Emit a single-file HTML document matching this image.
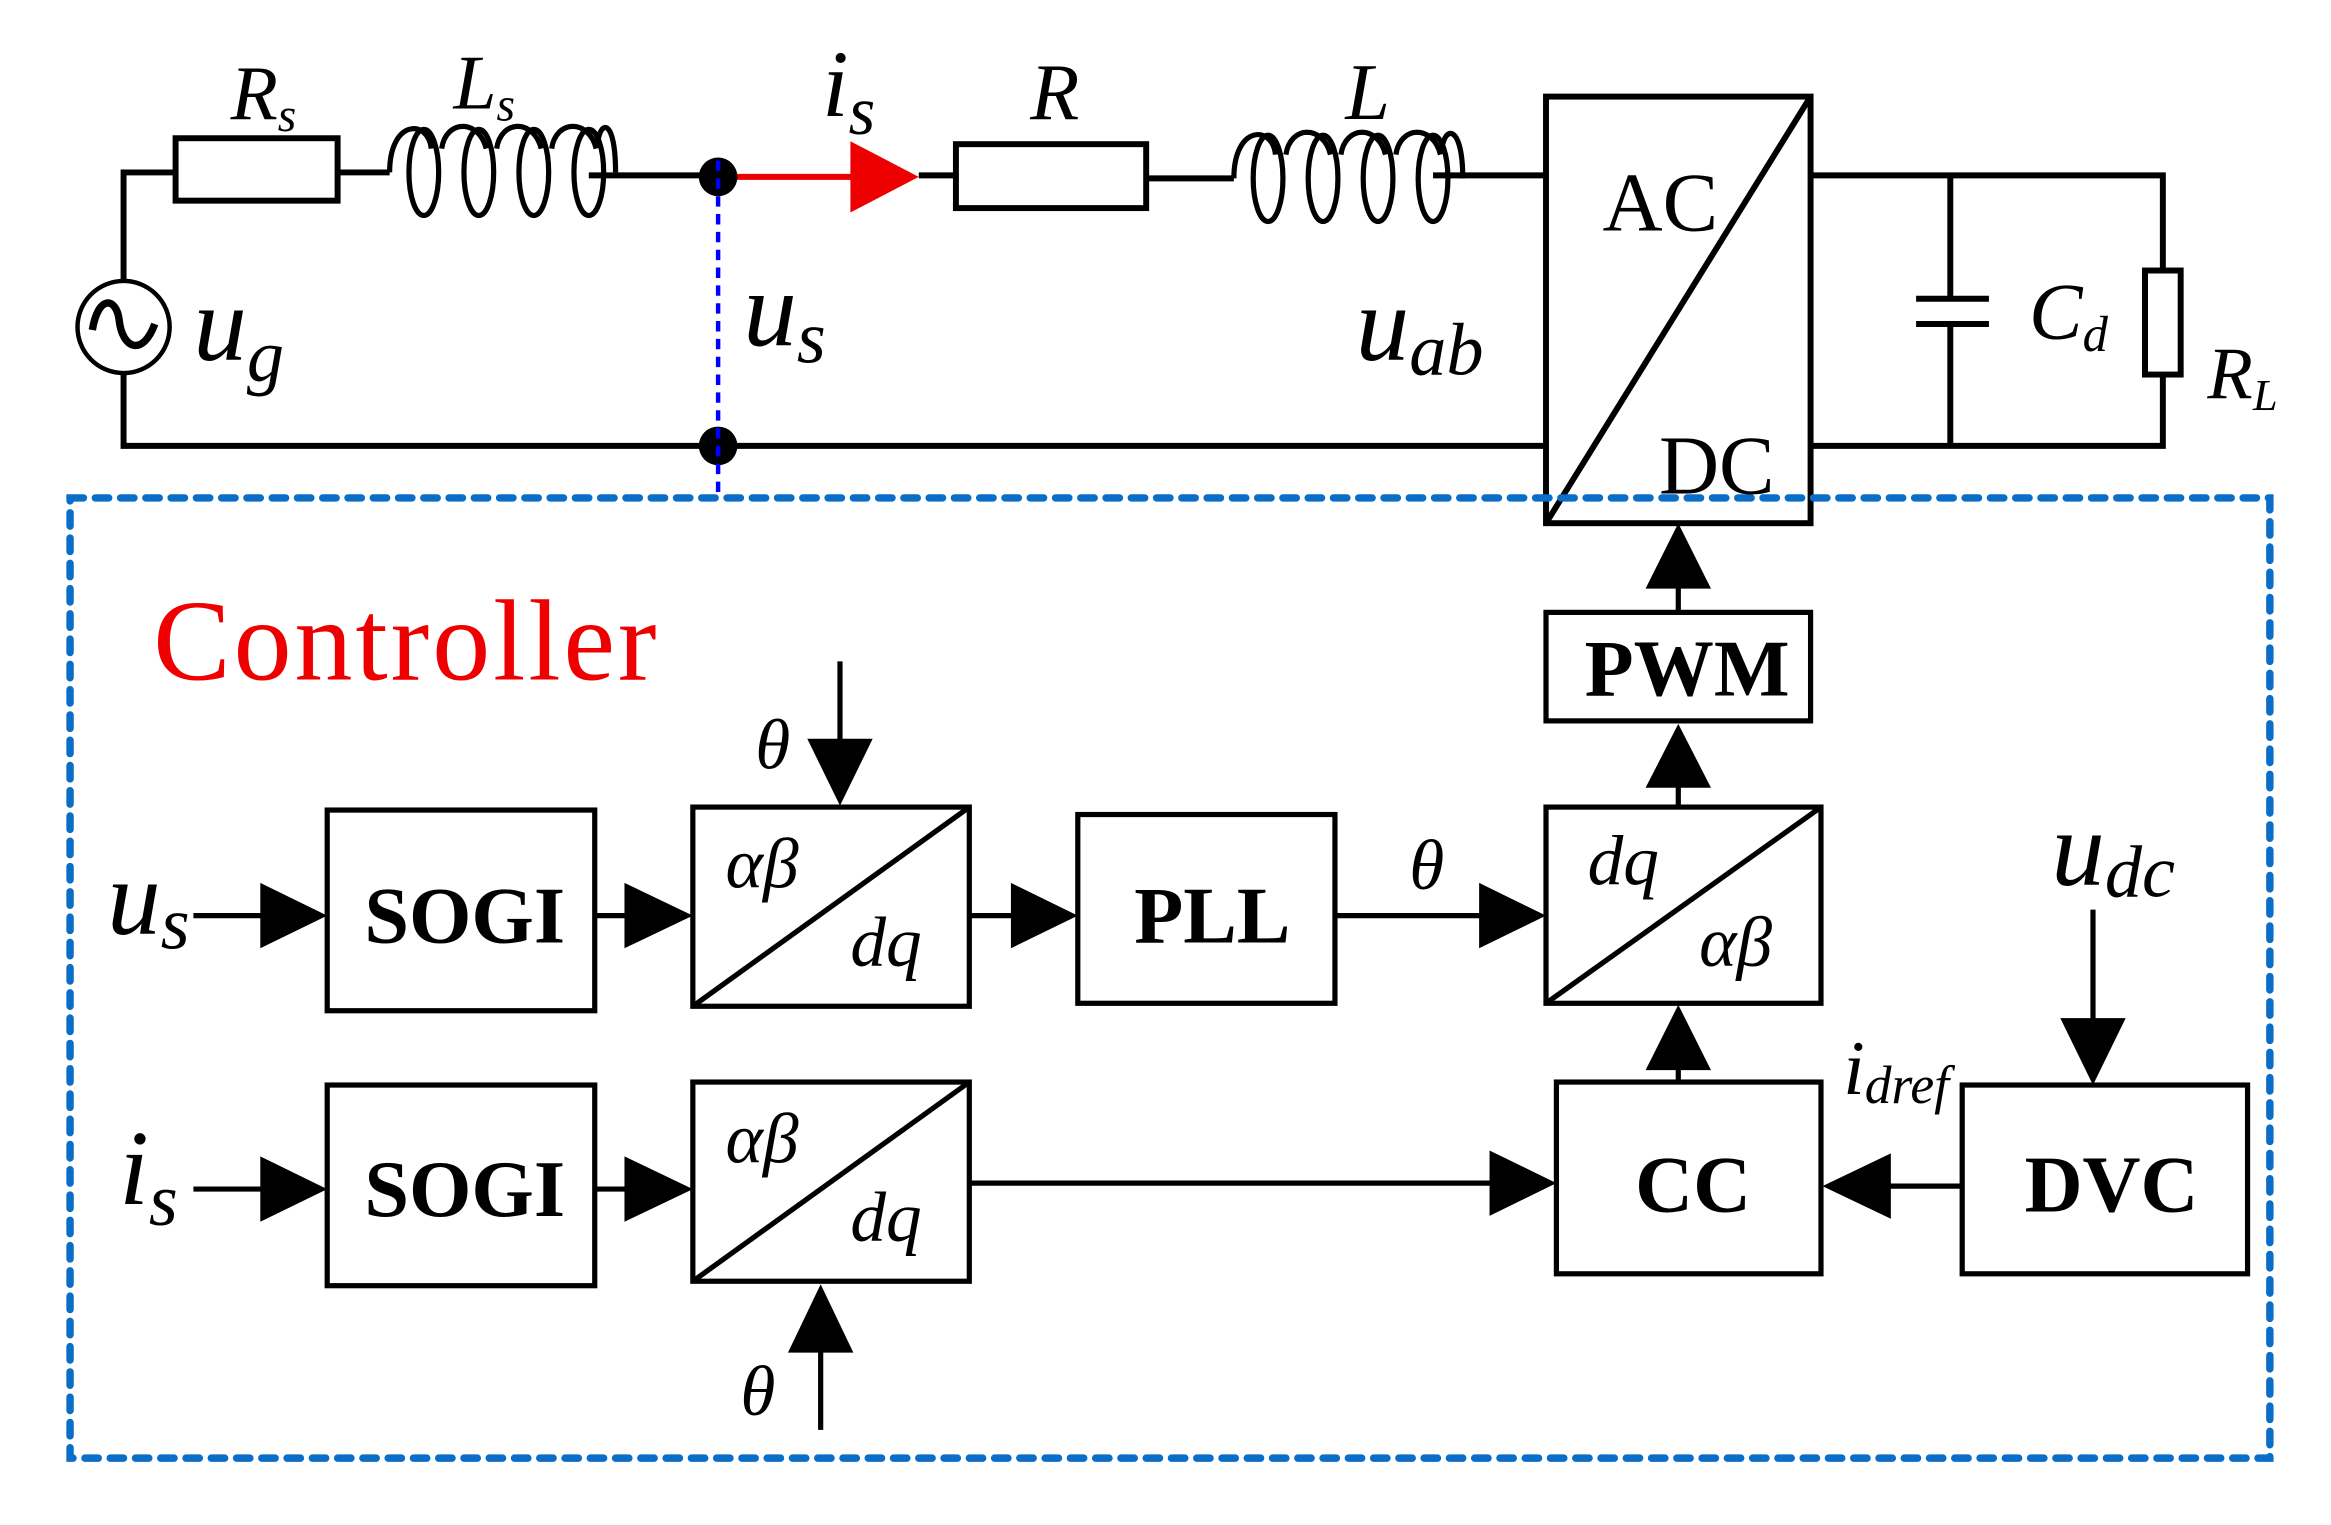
<!DOCTYPE html>
<html><head><meta charset="utf-8"><style>
html,body{margin:0;padding:0;background:#fff;}
svg{display:block}
text{font-family:"Liberation Serif",serif;}
.i{font-style:italic}
.b{font-weight:bold}
</style></head><body>
<svg width="2331" height="1525" viewBox="0 0 1568 1026" xmlns="http://www.w3.org/2000/svg">
<g stroke="#000" stroke-width="4" fill="none">
<circle cx="83" cy="220" r="31" stroke-width="3"/>
<path d="M62,222 C66,198 78,200 80,215 C82,235 96,240 104,218" stroke-width="5"/>
<polyline points="83,189 83,116 118,116"/>
<rect x="118" y="93" width="109" height="42"/>
<line x1="227" y1="116" x2="262" y2="116"/>
<g stroke-width="3.5">
<ellipse cx="285" cy="116" rx="10" ry="29"/>
<ellipse cx="322" cy="116" rx="10" ry="29"/>
<ellipse cx="359" cy="116" rx="10" ry="29"/>
<ellipse cx="396" cy="116" rx="10" ry="29"/>
<path d="M262,116 C262,80 288,80 290,100 M297,100 C300,80 322,80 327,100 M334,100 C337,80 359,80 364,100 M371,100 C374,80 396,80 401,100 M402,96 C404,80 414,80 414,116"/>
</g>
<line x1="396" y1="118" x2="483" y2="118"/>
<line x1="618" y1="118" x2="643" y2="118"/>
<rect x="643" y="97" width="128" height="43"/>
<line x1="771" y1="120" x2="830" y2="120"/>
<g stroke-width="3.5">
<ellipse cx="853" cy="120" rx="10" ry="29"/>
<ellipse cx="890" cy="120" rx="10" ry="29"/>
<ellipse cx="927" cy="120" rx="10" ry="29"/>
<ellipse cx="964" cy="120" rx="10" ry="29"/>
<path d="M830,120 C830,84 856,84 858,104 M865,104 C868,84 890,84 895,104 M902,104 C905,84 927,84 932,104 M939,104 C942,84 964,84 969,104 M970,100 C972,84 984,84 984,120"/>
</g>
<line x1="964" y1="118" x2="1040" y2="118"/>
<rect x="1040" y="65" width="178" height="287"/>
<line x1="1040" y1="352" x2="1218" y2="65"/>
<polyline points="1218,118 1455,118 1455,182"/>
<rect x="1443" y="182" width="24" height="70"/>
<polyline points="1455,252 1455,300 1218,300"/>
<line x1="1312" y1="118" x2="1312" y2="201"/>
<line x1="1289" y1="201" x2="1338" y2="201"/>
<line x1="1289" y1="218" x2="1338" y2="218"/>
<line x1="1312" y1="218" x2="1312" y2="300"/>
<polyline points="83,251 83,300 1040,300"/>
</g>
<line x1="490" y1="119" x2="575" y2="119" stroke="#e00" stroke-width="4"/>
<path d="M572,95 L618,119 L572,143 z" fill="#e00"/>
<ellipse cx="483" cy="119" rx="13" ry="13" fill="#000"/>
<ellipse cx="483" cy="300" rx="13" ry="13" fill="#000"/>
<line x1="483" y1="108" x2="483" y2="335" stroke="#00f" stroke-width="3" stroke-dasharray="7,5"/>
<rect x="47" y="335" width="1480" height="646" fill="none" stroke="#0a6ec8" stroke-width="5" stroke-dasharray="9,8" stroke-linecap="round"/>

<text x="155" y="80" font-size="52" class="i">R<tspan font-size="32" dy="8">s</tspan></text>
<text x="305" y="73" font-size="52" class="i">L<tspan font-size="32" dy="8">s</tspan></text>
<text x="553" y="78" font-size="64" class="i">i<tspan font-size="46" dy="12">s</tspan></text>
<text x="693" y="80" font-size="54" class="i">R</text>
<text x="905" y="80" font-size="54" class="i">L</text>
<text x="130" y="242" font-size="72" class="i">u<tspan font-size="50" dy="14">g</tspan></text>
<text x="500" y="232" font-size="72" class="i">u<tspan font-size="50" dy="12">s</tspan></text>
<text x="912" y="242" font-size="72" class="i">u<tspan font-size="50" dy="10">ab</tspan></text>
<text x="1078" y="155" font-size="56">AC</text>
<text x="1116" y="332" font-size="56">DC</text>
<text x="1365" y="228" font-size="54" class="i">C<tspan font-size="34" dy="8">d</tspan></text>
<text x="1485" y="268" font-size="50" class="i">R<tspan font-size="30" dy="8">L</tspan></text>
<text x="103" y="457" font-size="78" fill="#e00" letter-spacing="2">Controller</text>

<g stroke="#000" stroke-width="3.5" fill="none">
<rect x="1040" y="412" width="178" height="73"/>
<rect x="220" y="545" width="180" height="135"/>
<rect x="466" y="543" width="186" height="134"/>
<line x1="466" y1="677" x2="652" y2="543"/>
<rect x="725" y="548" width="173" height="127"/>
<rect x="1040" y="543" width="185" height="132"/>
<line x1="1040" y1="675" x2="1225" y2="543"/>
<rect x="220" y="730" width="180" height="135"/>
<rect x="466" y="728" width="186" height="134"/>
<line x1="466" y1="862" x2="652" y2="728"/>
<rect x="1047" y="728" width="178" height="129"/>
<rect x="1320" y="730" width="192" height="127"/>
</g>
<g stroke="#000" stroke-width="3.5" fill="none">
<line x1="1129" y1="412" x2="1129" y2="380"/>
<line x1="1129" y1="542" x2="1129" y2="515"/>
<line x1="565" y1="445" x2="565" y2="500"/>
<line x1="130" y1="616" x2="180" y2="616"/>
<line x1="400" y1="616" x2="425" y2="616"/>
<line x1="652" y1="616" x2="685" y2="616"/>
<line x1="898" y1="616" x2="1000" y2="616"/>
<line x1="130" y1="800" x2="180" y2="800"/>
<line x1="400" y1="800" x2="425" y2="800"/>
<line x1="652" y1="796" x2="1005" y2="796"/>
<line x1="1320" y1="798" x2="1268" y2="798"/>
<line x1="1129" y1="728" x2="1129" y2="715"/>
<line x1="1408" y1="612" x2="1408" y2="690"/>
<line x1="552" y1="962" x2="552" y2="905"/>
</g>
<g fill="#000">
<path d="M1107,396 L1129,352 L1151,396 z"/>
<path d="M1107,530 L1129,487 L1151,530 z"/>
<path d="M543,497 L565,542 L587,497 z"/>
<path d="M175,594 L220,616 L175,638 z"/>
<path d="M420,594 L466,616 L420,638 z"/>
<path d="M680,594 L725,616 L680,638 z"/>
<path d="M995,594 L1040,616 L995,638 z"/>
<path d="M175,778 L220,800 L175,822 z"/>
<path d="M420,778 L466,800 L420,822 z"/>
<path d="M1002,774 L1047,796 L1002,818 z"/>
<path d="M1272,776 L1226,798 L1272,820 z"/>
<path d="M1107,720 L1129,676 L1151,720 z"/>
<path d="M1386,685 L1408,730 L1430,685 z"/>
<path d="M530,910 L552,864 L574,910 z"/>
</g>
<g font-size="54" class="b">
<text x="1066" y="468">PWM</text>
<text x="245" y="634">SOGI</text>
<text x="763" y="634">PLL</text>
<text x="245" y="818">SOGI</text>
<text x="1100" y="815">CC</text>
<text x="1362" y="815">DVC</text>
</g>
<g font-size="48" class="i">
<text x="488" y="597">αβ</text>
<text x="572" y="650">dq</text>
<text x="488" y="782">αβ</text>
<text x="572" y="835">dq</text>
<text x="1068" y="595">dq</text>
<text x="1143" y="650">αβ</text>
<text x="508" y="517">θ</text>
<text x="948" y="598">θ</text>
<text x="498" y="952">θ</text>
</g>
<text x="72" y="628" font-size="72" class="i">u<tspan font-size="50" dy="10">s</tspan></text>
<text x="80" y="810" font-size="72" class="i">i<tspan font-size="50" dy="14">s</tspan></text>
<text x="1380" y="595" font-size="72" class="i">u<tspan font-size="50" dy="8">dc</tspan></text>
<text x="1240" y="736" font-size="52" class="i">i<tspan font-size="36" dy="6">dref</tspan></text>
</svg>
</body></html>
